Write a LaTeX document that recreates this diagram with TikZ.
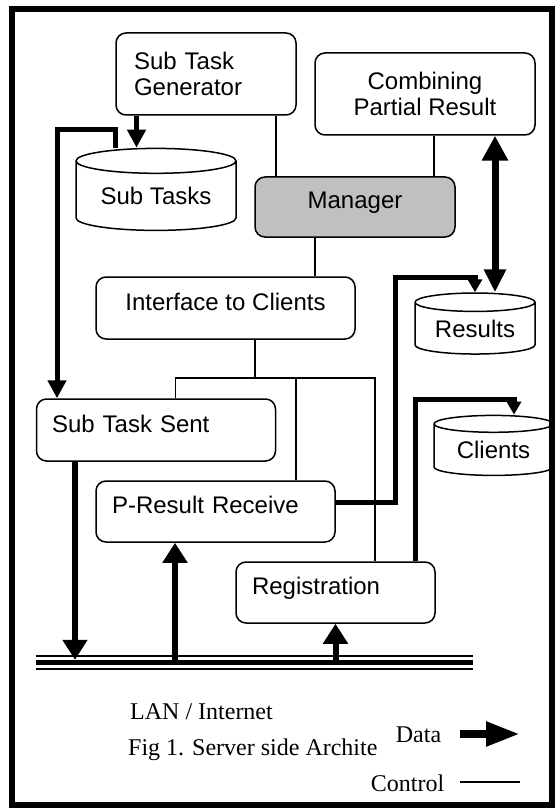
\documentclass[tikz,border=0pt]{standalone}
\usepackage{fontspec}
\setmainfont{Liberation Sans}
\newfontfamily\capfont{Liberation Serif}
\usetikzlibrary{arrows.meta,shapes.geometric}
\definecolor{mgrgray}{RGB}{192,192,192}
\tikzset{
    task box/.style = {
        draw,
        rounded corners=10pt,
        line width=1.5pt,
        inner sep=0pt,
        font=\fontsize{24}{26}\selectfont,
        },
    lift/.style = {
        text height=18pt,
        text depth=14pt,
        },
    store/.style = {
        draw,
        cylinder,
        shape border rotate=90,
        line width=1.5pt,
        inner sep=0pt,
        font=\fontsize{24}{26}\selectfont,
        },
    ctrl edge/.style = {
        line width=1.3pt,
        },
    data edge/.style = {
        line width=6pt,
        -{Triangle[length=20pt,width=24pt]},
        },
    data thin/.style = {
        line width=5pt,
        -{Triangle[length=18pt,width=18pt]},
        },
    data small/.style = {
        line width=5pt,
        -{Triangle[length=13pt,width=14pt]},
        },
    caption/.style = {
        font=\capfont\fontsize{24}{28}\selectfont,
        inner sep=0pt,
        },
}

\begin{document}
\begin{tikzpicture}[x=1pt,y=-1pt]
    \useasboundingbox (0,0) rectangle (556,810);
    \draw[line width=6pt] (12,9) rectangle (552,805);

    \node[task box, text width=144pt, align=left, minimum width=180pt, minimum height=82pt] (gen) at (206,74) {Sub Task\\Generator};
    \node[task box, align=center, minimum width=220pt, minimum height=82pt] (comb) at (425,94) {Combining\\Partial Result};
    \node[store, minimum width=160pt, minimum height=82pt, aspect=0.225] (subtasks) at (156,196) {Sub Tasks};
    \node[task box, lift, fill=mgrgray, minimum width=200pt, minimum height=60pt] (mgr) at (355,207) {Manager};
    \node[task box, lift, minimum width=259pt, minimum height=62pt] (ifc) at (225.5,308) {Interface to Clients};
    \node[store, minimum width=120pt, minimum height=61pt, aspect=0.23] (res) at (475,328.5) {Results};
    \node[task box, lift, text width=208pt, align=left, minimum width=239pt, minimum height=62pt] (sent) at (156,430) {Sub Task Sent};
    \node[store, minimum width=119pt, minimum height=60pt, aspect=0.23] (cli) at (493.5,450) {Clients};
    \node[task box, lift, text width=207pt, align=left, minimum width=239pt, minimum height=61pt] (prr) at (215.5,511.5) {P-Result Receive};
    \node[task box, lift, text width=167pt, align=left, minimum width=199pt, minimum height=61pt] (reg) at (335.5,592.5) {Registration};
    \node[inner sep=0pt, minimum width=437pt, minimum height=5pt] (lan) at (254.5,662.5) {};

    % network
    \draw[line width=2.5pt] ([yshift=6.5pt]lan.west) -- ([yshift=6.5pt]lan.east);
    \draw[line width=5pt] (lan.west) -- (lan.east);
    \draw[line width=2.5pt] ([yshift=-6.5pt]lan.west) -- ([yshift=-6.5pt]lan.east);

    % control
    \path ([xshift=70pt]gen.south) edge[ctrl edge] ([xshift=70pt]gen.south |- mgr.north);
    \path ([xshift=9pt]comb.south) edge[ctrl edge] ([xshift=9pt]comb.south |- mgr.north);
    \path ([xshift=-40pt]mgr.south) edge[ctrl edge] ([xshift=-40pt]mgr.south |- ifc.north);
    \coordinate (hub) at (255,378);
    \draw[ctrl edge] ([xshift=29.5pt]ifc.south) -- (hub);
    \draw[ctrl edge] (hub) -| ([xshift=19.5pt]sent.north);
    \draw[ctrl edge] (hub) -| ([xshift=80.5pt]prr.north);
    \draw[ctrl edge] (hub) -| ([xshift=39.5pt]reg.north);

    % data
    \draw[data thin] ([xshift=-69.5pt]gen.south) -- ([xshift=-69.5pt]gen.south |- subtasks.north);
    \draw[data thin] ([xshift=-41pt]subtasks.north) -- ++(0,-18) -| ([xshift=-99pt]sent.north);
    \draw[line width=7pt, {Triangle[length=25pt,width=25pt]}-{Triangle[length=23pt,width=21pt]}] ([xshift=70pt]comb.south) -- ([xshift=70pt]comb.south |- res.north);
    \draw[data small] ([yshift=9.5pt]prr.east) -- ++(60,0) -- ++(0,-225) -| (res.north);
    \draw[data small] ([xshift=79.5pt]reg.north) -- ++(0,-162) -| ([xshift=20.5pt]cli.north);
    \draw[data edge] ([xshift=-81pt]sent.south) -- ([xshift=-81pt]sent.south |- lan.north);
    \draw[data edge] ([xshift=-40.5pt]prr.south |- lan.north) -- ([xshift=-40.5pt]prr.south);
    \draw[data edge] (reg.south |- lan.north) -- (reg.south);

    % captions and legend
    \node[caption] (lanlab) at (201.5,712) {LAN / Internet};
    \node[caption, anchor=west] (fig) at (128,750) {Fig 1. Server side Archite};
    \node[caption] (datalab) at (418.5,735) {Data};
    \coordinate (dataA) at (460,734);
    \coordinate (dataB) at (520,734);
    \draw[line width=8pt, -{Triangle[length=34pt,width=23pt]}] (dataA) -- (dataB);
    \node[caption] (ctrllab) at (407.5,783) {Control};
    \coordinate (ctrlA) at (460,782);
    \coordinate (ctrlB) at (520,782);
    \draw[ctrl edge] (ctrlA) -- (ctrlB);
\end{tikzpicture}
\end{document}
